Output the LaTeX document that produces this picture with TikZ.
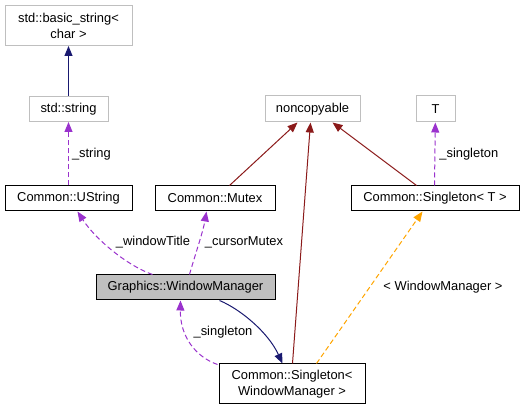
\documentclass[tikz,border=0pt]{standalone}
\usepackage{fontspec}
\setmainfont{Liberation Sans}
\usetikzlibrary{arrows.meta,calc}
\definecolor{navy}{HTML}{191970}
\definecolor{dred}{HTML}{8B1A1A}
\definecolor{dpurple}{HTML}{9A32CD}
\definecolor{dorange}{HTML}{FFA500}
\definecolor{boxgray}{HTML}{BFBFBF}
\begin{document}
\begin{tikzpicture}[x=1pt,y=-1pt,
  every node/.style={font=\fontsize{12.9}{16}\selectfont, inner sep=0pt, align=center},
  graybox/.style={draw=boxgray, line width=1pt, rectangle},
  blackbox/.style={draw=black, line width=1pt, rectangle},
  tip/.style={-{Triangle[length=10pt,width=8pt]}},
  inh/.style={tip, line width=1pt},
  use/.style={tip, line width=1pt, dash pattern=on 5pt off 3pt},
  lbl/.style={fill=none}
]
\useasboundingbox (0,0) rectangle (525,411);
% nodes
\node[graybox, minimum width=127pt, minimum height=40pt] (bs) at (68.5,25.5) {std::basic\_string<\\char >};
\node[graybox, minimum width=79pt, minimum height=25pt] (str) at (68.5,109) {std::string};
\node[blackbox, minimum width=127pt, minimum height=25pt] (ustr) at (68.5,198.5) {Common::UString};
\node[blackbox, minimum width=120pt, minimum height=25pt] (mutex) at (215,198.5) {Common::Mutex};
\node[graybox, minimum width=95pt, minimum height=26pt] (nc) at (312.5,109) {noncopyable};
\node[graybox, minimum width=39pt, minimum height=26pt] (T) at (435.5,109) {T};
\node[blackbox, minimum width=168pt, minimum height=25pt] (sT) at (435,198.5) {Common::Singleton< T >};
\node[blackbox, fill=boxgray, minimum width=179pt, minimum height=25pt] (wm) at (185.5,287.5) {Graphics::WindowManager};
\node[blackbox, minimum width=146pt, minimum height=40pt] (sWM) at (292,384) {Common::Singleton<\\WindowManager >};
% edges
\draw[inh, navy] (str) -- (bs);
\draw[use, dpurple] (ustr) -- node[right=3pt, pos=0.5, text=black] {\_string} (str);
\draw[inh, dred] ($(mutex.north west)+(75,0)$) -- ($(nc.south west)+(33,0)$);
\draw[inh, dred] ($(sWM.north west)+(74,0)$) -- ($(nc.south west)+(46,0)$);
\draw[inh, dred] ($(sT.north west)+(66,0)$) -- ($(nc.south west)+(68,0)$);
\draw[use, dpurple] ($(sT.north west)+(84,0)$) -- node[right=4pt, text=black] {\_singleton} (T);
\draw[use, dpurple] ($(wm.north west)+(57,0)$) .. controls (128,266) and (96,240) .. ($(ustr.south west)+(73,0)$);
\node (lwt) at (153,242) {\_windowTitle};
\draw[use, dpurple] ($(wm.north west)+(94,0)$) .. controls (195,255) and (203,232) .. ($(mutex.south west)+(52,0)$);
\node (lcm) at (244,242) {\_cursorMutex};
\draw[inh, navy] ($(wm.south west)+(124,0)$) .. controls (240,309) and (268,332) .. ($(sWM.north west)+(64,0)$);
\draw[use, dpurple] ($(sWM.north west)+(-1,1)$) .. controls (196,357) and (180,337) .. ($(wm.south west)+(85,0)$);
\node (lsg) at (223,332) {\_singleton};
\draw[use, dorange] ($(sWM.north west)+(98,0)$) -- ($(sT.south west)+(72,0)$);
\node (lwmg) at (443,287) {< WindowManager >};
\end{tikzpicture}
\end{document}
